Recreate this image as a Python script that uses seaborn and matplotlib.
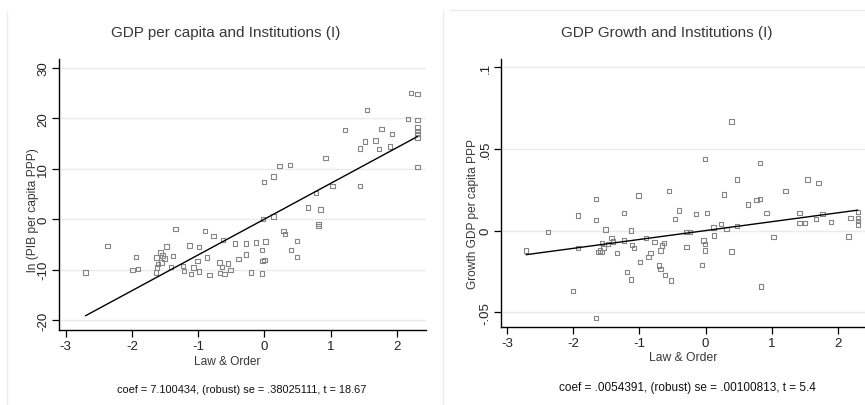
import matplotlib
matplotlib.use("Agg")
import matplotlib.pyplot as plt
import seaborn as sns
import numpy as np
import pandas as pd
from matplotlib.lines import Line2D

# ---------------- data ----------------
law_order_left = [-2.70, -2.37, -1.99, -1.91, -1.94, -1.63, -1.64, -1.62, -1.61, -1.57,
                  -1.54, -1.55, -1.51, -1.48, -1.41, -1.38, -1.34, -1.23, -1.21, -1.13,
                  -1.11, -1.07, -1.01, -0.99, -0.99, -0.90, -0.87, -0.83, -0.77, -0.68,
                  -0.67, -0.64, -0.62, -0.60, -0.55, -0.51, -0.44, -0.39, -0.28, -0.28,
                  -0.13, -0.20, -0.04, -0.03, 0.00, -0.04, 0.02, -0.02, -0.01, 0.14,
                  0.14, 0.23, 0.39, 0.29, 0.31, 0.40, 0.49, 0.49, 0.66, 0.78,
                  0.82, 0.82, 0.85, 0.92, 1.03, 1.22, 1.44, 1.44, 1.52, 1.55,
                  1.68, 1.73, 1.77, 1.93, 1.90, 2.17, 2.21, 2.31, 2.31, 2.31,
                  2.31, 2.31, 2.31, 2.31]
ln_gdp_pc = [-10.6, -5.3, -10.1, -9.9, -7.5, -7.6, -10.6, -9.6, -8.9, -6.6,
             -7.2, -8.6, -7.8, -5.4, -9.5, -7.3, -2.0, -9.3, -10.3, -5.2,
             -10.9, -9.6, -8.3, -5.5, -10.4, -2.3, -7.6, -11.1, -3.3, -8.6,
             -10.7, -9.5, -4.1, -10.9, -8.8, -10.1, -4.8, -7.9, -4.8, -7.0,
             -4.6, -10.6, -6.1, -8.3, -8.1, -10.8, -4.4, 0.0, 7.4, 0.5,
             8.5, 10.6, 10.7, -2.3, -3.0, -6.1, -4.3, -7.5, 2.3, 5.2,
             -1.3, -1.0, 1.9, 12.1, 6.6, 17.7, 14.0, 6.6, 15.4, 21.7,
             15.6, 13.9, 17.9, 16.9, 14.4, 19.9, 25.0, 24.8, 19.7, 18.2,
             17.5, 16.9, 16.2, 10.4]

law_order_right = [-2.71, -2.38, -2.00, -1.93, -1.93, -1.65, -1.65, -1.65, -1.62, -1.59,
                   -1.56, -1.56, -1.54, -1.51, -1.47, -1.42, -1.40, -1.34, -1.23, -1.23,
                   -1.19, -1.13, -1.13, -1.11, -1.08, -1.01, -0.99, -0.90, -0.86, -0.83,
                   -0.77, -0.70, -0.68, -0.68, -0.66, -0.63, -0.61, -0.55, -0.52, -0.46,
                   -0.40, -0.29, -0.29, -0.23, -0.14, -0.05, -0.03, -0.01, -0.01, -0.01,
                   0.02, 0.12, 0.13, 0.23, 0.28, 0.32, 0.39, 0.39, 0.48, 0.48,
                   0.64, 0.77, 0.82, 0.82, 0.84, 0.92, 1.03, 1.21, 1.42, 1.42,
                   1.50, 1.54, 1.67, 1.71, 1.77, 1.90, 2.16, 2.19, 2.30, 2.30,
                   2.30, 2.30]
growth_gdp_pc = [-0.0122, -0.0010, -0.0371, 0.0092, -0.0106, 0.0194, 0.0063, -0.0535, -0.0131, -0.0122,
                 -0.0131, -0.0076, -0.0106, 0.0006, -0.0082, -0.0047, -0.0067, -0.0137, 0.0108, -0.0061,
                 -0.0255, 0.0000, -0.0300, -0.0090, -0.0108, 0.0214, -0.0192, -0.0047, -0.0161, -0.0137,
                 -0.0069, -0.0214, -0.0235, -0.0122, -0.0092, -0.0076, -0.0273, 0.0241, -0.0306, 0.0071,
                 0.0122, -0.0010, -0.0102, -0.0010, 0.0102, -0.0212, -0.0061, -0.0082, -0.0122, 0.0439,
                 0.0108, 0.0020, -0.0031, 0.0041, 0.0220, 0.0010, 0.0667, -0.0129, 0.0312, 0.0027,
                 0.0159, 0.0186, 0.0194, 0.0414, -0.0341, 0.0108, -0.0041, 0.0241, 0.0047, 0.0108,
                 0.0047, 0.0312, 0.0071, 0.0292, 0.0102, 0.0051, -0.0035, 0.0078, 0.0114, 0.0078,
                 0.0057, 0.0037]

fit_left = {"slope": 7.100434, "intercept": 0.0}
fit_right = {"slope": 0.0054391, "intercept": 0.0}

titles = ["GDP per capita and Institutions (I)", "GDP Growth and Institutions (I)"]
ylabels = ["ln (PIB per capita PPP)", "Growth GDP per capita PPP"]
xlabel = "Law & Order"
notes = ["coef = 7.100434, (robust) se = .38025111, t = 18.67",
         "coef = .0054391, (robust) se = .00100813, t = 5.4"]
xticks = [-3, -2, -1, 0, 1, 2]
xticklabels = ["-3", "-2", "-1", "0", "1", "2"]
yticks_left = [-20, -10, 0, 10, 20, 30]
yticklabels_left = ["-20", "-10", "0", "10", "20", "30"]
yticks_right = [-0.05, 0, 0.05, 0.1]
yticklabels_right = ["-.05", "0", ".05", ".1"]

# ---------------- style ----------------
sns.set_theme(style="white")
plt.rcParams["font.family"] = ["Liberation Sans", "DejaVu Sans"]

W, H = 865, 406
fig = plt.figure(figsize=(W / 100, H / 100), dpi=100)
fig.patch.set_facecolor("white")


def fx(px):
    return px / W


def fy(py):
    return 1 - py / H


ax1 = fig.add_axes([fx(59), fy(331), fx(426 - 59), (331 - 60) / H])
ax2 = fig.add_axes([fx(501), fy(328), fx(865 - 501), (328 - 60) / H])

text_col = "#383838"
marker_col = "#858585"


def draw(ax, x, y, fit, yticks, yticklabels, xlim, ylim):
    df = pd.DataFrame({"x": x, "y": y})
    sns.scatterplot(data=df, x="x", y="y", ax=ax, marker="s", s=10,
                    facecolor="none", edgecolor=marker_col, linewidth=0.8, zorder=3)
    xs = np.array([min(x), max(x)])
    line_df = pd.DataFrame({"x": xs, "y": fit["slope"] * xs + fit["intercept"]})
    sns.lineplot(data=line_df, x="x", y="y", ax=ax, color="black", linewidth=1.0, zorder=4)
    ax.set_xlim(*xlim)
    ax.set_ylim(*ylim)
    ax.set_xticks(xticks)
    ax.set_xticklabels(xticklabels)
    ax.set_yticks(yticks)
    ax.set_yticklabels(yticklabels, rotation=90, va="center")
    ax.set_xlabel("")
    ax.set_ylabel("")
    for yt in yticks:
        ax.axhline(yt, color="#ebebeb", linewidth=1.0, zorder=1)
    for s in ["top", "right"]:
        ax.spines[s].set_visible(False)
    for s in ["left", "bottom"]:
        ax.spines[s].set_color("black")
        ax.spines[s].set_linewidth(1.0)
    ax.tick_params(axis="both", which="major", direction="out", length=5, width=0.9,
                   color="black", labelsize=9.5, labelcolor="#222222", pad=2,
                   left=True, bottom=True)
    ax.set_facecolor("white")


draw(ax1, law_order_left, ln_gdp_pc, fit_left, yticks_left, yticklabels_left,
     (-3.1, 2.44), (-22.0, 31.8))
draw(ax2, law_order_right, growth_gdp_pc, fit_right, yticks_right, yticklabels_right,
     (-3.09, 2.41), (-0.059, 0.105))

# titles, labels, notes (font size fitted to the reference text widths in px)
texts = []
texts.append((fig.text(fx(226), fy(33), titles[0], ha="center", va="center", fontsize=11, color=text_col), 230, "w"))
texts.append((fig.text(fx(667), fy(33), titles[1], ha="center", va="center", fontsize=11, color=text_col), 212, "w"))
texts.append((fig.text(fx(227), fy(362), xlabel, ha="center", va="center", fontsize=9, color=text_col), 67, "w"))
texts.append((fig.text(fx(683), fy(358), xlabel, ha="center", va="center", fontsize=9, color=text_col), 68, "w"))
texts.append((fig.text(fx(33), fy(210), ylabels[0], ha="center", va="center", rotation=90, fontsize=9, color=text_col), 124, "h"))
texts.append((fig.text(fx(473), fy(214), ylabels[1], ha="center", va="center", rotation=90, fontsize=9, color=text_col), 150, "h"))
texts.append((fig.text(fx(242), fy(390), notes[0], ha="center", va="center", fontsize=9, color="#111111"), 251, "w"))
texts.append((fig.text(fx(687), fy(388), notes[1], ha="center", va="center", fontsize=9, color="#111111"), 257, "w"))

fig.canvas.draw()
renderer = fig.canvas.get_renderer()
for t, target, dim in texts:
    bb = t.get_window_extent(renderer)
    cur = bb.width if dim == "w" else bb.height
    if cur > 0:
        t.set_fontsize(t.get_fontsize() * target / cur)

# faint panel borders
fig.add_artist(Line2D([fx(7), fx(7)], [fy(12), fy(406)], color="#ececec", linewidth=1.0))
fig.add_artist(Line2D([fx(443), fx(443)], [fy(12), fy(406)], color="#ececec", linewidth=1.0))
fig.add_artist(Line2D([fx(450), fx(865)], [fy(11), fy(11)], color="#ececec", linewidth=1.0))

fig.savefig("out.png", dpi=100, facecolor="white")
